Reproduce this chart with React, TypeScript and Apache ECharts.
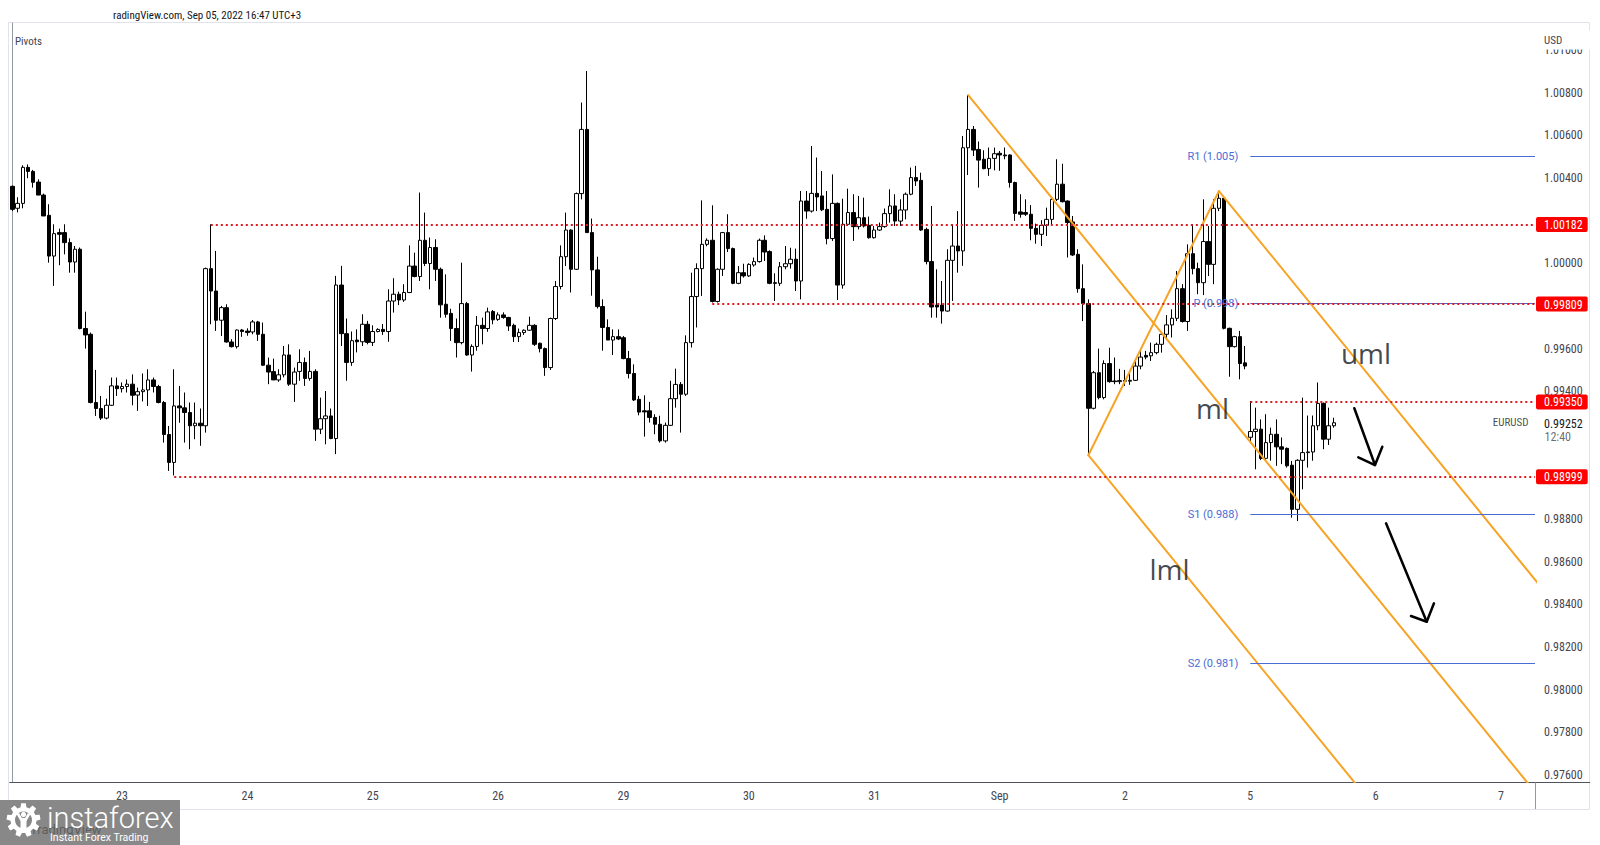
import React, { useEffect, useRef } from "react";
import * as echarts from "echarts";

// Hourly EURUSD bars, each [open, high, low, close]
const aug22 = [
  [1.00361, 1.00365, 1.00245, 1.00253], [1.00258, 1.0031, 1.00239, 1.00281], [1.00281, 1.0046, 1.00258, 1.0045],
  [1.0045, 1.00464, 1.00399, 1.00431], [1.00431, 1.00438, 1.00355, 1.0038], [1.00381, 1.00394, 1.0032, 1.0032],
  [1.0032, 1.00327, 1.00222, 1.00222], [1.00225, 1.00277, 1.00003, 1.00034], [1.00034, 1.00183, 0.99894, 1.00139],
  [1.00144, 1.00163, 0.99991, 1.00136], [1.00144, 1.00183, 1.00042, 1.00097], [1.00097, 1.00117, 0.99956, 1.00006],
  [1.00006, 1.00081, 0.99956, 1.00066], [1.00066, 1.00074, 0.9969, 0.99694], [0.99694, 0.99773, 0.996, 0.99664],
  [0.99667, 0.99675, 0.99343, 0.99347], [0.99347, 0.995, 0.99284, 0.99319], [0.99319, 0.99378, 0.99265, 0.99274],
  [0.99274, 0.99365, 0.99268, 0.99334], [0.99334, 0.99464, 0.99331, 0.99425], [0.99425, 0.99464, 0.99378, 0.99412],
];
const aug23 = [
  [0.99412, 0.99441, 0.99394, 0.99422], [0.99422, 0.99455, 0.99394, 0.99433], [0.99433, 0.99479, 0.99334, 0.99381],
  [0.99382, 0.99417, 0.99308, 0.99398], [0.99398, 0.99483, 0.99352, 0.99406], [0.99406, 0.99503, 0.99331, 0.99453],
  [0.99453, 0.99464, 0.99394, 0.99422], [0.99422, 0.9943, 0.99343, 0.99347], [0.99347, 0.99354, 0.99159, 0.99197],
  [0.99197, 0.99237, 0.99026, 0.99066], [0.99066, 0.99503, 0.99005, 0.99331], [0.99331, 0.99425, 0.99252, 0.99322],
  [0.99322, 0.99394, 0.99159, 0.993], [0.993, 0.99347, 0.99128, 0.99238], [0.99238, 0.99347, 0.99175, 0.9925],
  [0.9925, 0.99319, 0.99144, 0.99238], [0.99238, 0.9998, 0.99206, 0.99975], [0.99975, 1.00183, 0.99714, 0.9987],
  [0.9987, 1.00058, 0.99683, 0.99733], [0.99733, 0.998, 0.99659, 0.99792], [0.99792, 0.99808, 0.99628, 0.99631],
  [0.99631, 0.99644, 0.99605, 0.99609], [0.99609, 0.9969, 0.996, 0.99687], [0.99687, 0.99692, 0.99655, 0.9968],
];
const aug24 = [
  [0.99682, 0.99695, 0.9966, 0.99675], [0.99678, 0.99734, 0.99667, 0.99725], [0.99725, 0.9973, 0.99636, 0.99667],
  [0.99667, 0.99722, 0.99519, 0.99522], [0.99522, 0.99558, 0.99433, 0.9949], [0.99492, 0.99553, 0.99453, 0.99453],
  [0.99453, 0.99503, 0.99444, 0.99477], [0.99477, 0.99612, 0.99465, 0.9957], [0.9957, 0.9962, 0.99425, 0.99433],
  [0.99433, 0.99511, 0.9935, 0.9949], [0.99493, 0.99597, 0.99449, 0.99535], [0.99535, 0.99558, 0.99425, 0.9946],
  [0.9946, 0.99589, 0.99449, 0.99493], [0.99493, 0.99503, 0.99167, 0.99222], [0.99222, 0.9937, 0.99199, 0.99271],
  [0.99271, 0.99401, 0.99151, 0.99284], [0.99284, 0.99319, 0.99175, 0.99178], [0.99178, 0.99941, 0.99105, 0.99898],
  [0.99898, 0.99988, 0.99612, 0.9967], [0.9967, 0.99741, 0.99449, 0.99535], [0.99535, 0.9968, 0.99519, 0.99637],
  [0.9964, 0.9969, 0.99582, 0.99632], [0.99632, 0.99761, 0.99612, 0.99714], [0.99714, 0.9973, 0.9962, 0.99629],
];
const aug25 = [
  [0.99629, 0.99709, 0.99612, 0.9968], [0.9968, 0.99695, 0.99676, 0.9969], [0.9969, 0.99715, 0.99664, 0.9968],
  [0.9968, 0.99878, 0.99632, 0.99823], [0.99823, 0.9993, 0.99769, 0.99855], [0.99855, 0.99867, 0.99804, 0.99828],
  [0.99828, 0.99902, 0.99819, 0.99863], [0.99863, 1.00084, 0.9986, 0.99987], [0.99987, 1.0005, 0.99934, 0.99938],
  [0.99938, 1.00332, 0.99917, 1.00108], [1.00108, 1.00238, 0.99987, 0.99999], [0.99999, 1.00121, 0.99878, 1.00074],
  [1.00074, 1.00113, 0.99917, 0.99972], [0.99972, 0.9998, 0.99745, 0.99805], [0.99808, 0.99948, 0.99745, 0.99761],
  [0.99765, 0.99787, 0.99636, 0.99694], [0.99694, 0.99741, 0.99558, 0.99628], [0.99628, 1.00003, 0.9962, 0.99811],
  [0.99811, 0.99819, 0.99566, 0.9957], [0.9957, 0.9962, 0.99492, 0.9961], [0.9961, 0.99753, 0.9959, 0.99709],
  [0.99709, 0.99745, 0.9962, 0.99694], [0.99694, 0.99792, 0.99679, 0.99772], [0.99774, 0.99781, 0.99714, 0.99735],
];
const aug26 = [
  [0.99737, 0.9977, 0.9973, 0.99758], [0.99758, 0.9977, 0.9974, 0.99746], [0.99746, 0.99749, 0.99683, 0.99706],
  [0.99709, 0.99717, 0.99631, 0.99656], [0.99656, 0.99694, 0.99631, 0.99675], [0.99675, 0.9969, 0.99664, 0.99686],
  [0.99686, 0.9975, 0.99683, 0.99709], [0.99709, 0.99714, 0.99612, 0.9962], [0.99625, 0.99628, 0.99582, 0.996],
  [0.996, 0.99605, 0.99472, 0.99511], [0.99511, 0.99745, 0.995, 0.99741], [0.99741, 0.99917, 0.99734, 0.99891],
  [0.99891, 1.00084, 0.99878, 1.00031], [1.00031, 1.00238, 0.99987, 1.00156], [1.00156, 1.0016, 0.99863, 0.99972],
  [0.99972, 1.00332, 0.99969, 1.00327], [1.00327, 1.00754, 1.003, 1.00628], [1.00628, 1.00902, 1.00144, 1.00144],
  [1.00144, 1.0021, 0.99848, 0.99969], [0.99969, 1.00031, 0.99788, 0.99797], [0.99797, 0.99831, 0.9959, 0.99699],
  [0.99699, 0.99737, 0.9964, 0.9964], [0.9964, 0.9969, 0.9957, 0.99656], [0.99656, 0.9969, 0.9964, 0.99645],
];
const aug29 = [
  [0.99651, 0.99659, 0.9955, 0.99553], [0.99553, 0.99589, 0.9946, 0.99483], [0.99483, 0.99526, 0.99354, 0.99359],
  [0.99362, 0.99378, 0.99287, 0.99302], [0.99308, 0.99381, 0.99187, 0.99303], [0.99308, 0.9935, 0.99253, 0.99277],
  [0.99277, 0.99292, 0.99198, 0.99245], [0.99245, 0.99285, 0.99159, 0.99167], [0.99167, 0.99253, 0.99159, 0.9924],
  [0.9924, 0.99449, 0.99237, 0.99365], [0.99365, 0.99506, 0.99323, 0.99432], [0.99432, 0.99443, 0.99206, 0.99386],
  [0.99386, 0.99662, 0.99378, 0.99628], [0.99628, 0.99956, 0.99605, 0.99844], [0.99844, 1.0, 0.99699, 0.99975],
  [0.99975, 1.00295, 0.99847, 1.00089], [1.00089, 1.00117, 1.0008, 1.00108], [1.00108, 1.00272, 0.99816, 0.99821],
  [0.99821, 0.99976, 0.99816, 0.99972], [0.99972, 1.00147, 0.99941, 1.00144], [1.00144, 1.0023, 1.00053, 1.00069],
  [1.00069, 1.00074, 0.99902, 0.99906], [0.99906, 0.99987, 0.99902, 0.99956], [0.99956, 0.99998, 0.99933, 0.99941],
];
const aug30 = [
  [0.99941, 1.0, 0.99936, 0.99995], [0.99992, 1.00027, 0.99984, 1.00008], [1.00008, 1.00116, 1.00003, 1.00108],
  [1.00108, 1.00131, 1.00011, 1.00053], [1.00055, 1.00061, 0.99902, 0.99906], [0.99909, 0.99953, 0.99823, 0.99906],
  [0.99906, 1.00006, 0.99894, 0.99984], [0.99984, 1.00081, 0.99972, 0.99998], [0.99998, 1.00073, 0.99975, 1.00019],
  [1.00019, 1.00069, 0.9987, 0.99917], [0.99917, 1.00339, 0.99831, 1.00292], [1.00292, 1.00339, 1.00209, 1.00245],
  [1.00245, 1.0055, 1.00238, 1.00328], [1.00328, 1.00496, 1.00245, 1.00311], [1.00316, 1.00433, 1.00245, 1.00251],
  [1.00253, 1.00339, 1.00089, 1.00116], [1.00116, 1.00417, 1.00105, 1.00281], [1.00281, 1.00285, 0.99828, 0.99898],
  [0.99898, 1.00303, 0.99881, 1.00183], [1.00183, 1.0035, 1.00175, 1.00238], [1.00238, 1.00324, 1.00105, 1.00172],
  [1.00172, 1.00316, 1.00159, 1.00214], [1.00214, 1.00308, 1.00168, 1.00175], [1.00178, 1.00219, 1.00116, 1.0012],
];
const aug31 = [
  [1.0012, 1.00175, 1.00116, 1.00156], [1.00156, 1.00191, 1.00152, 1.00172], [1.00172, 1.00257, 1.00167, 1.00233],
  [1.00233, 1.00347, 1.00191, 1.00269], [1.00269, 1.00324, 1.00175, 1.00198], [1.00198, 1.003, 1.00175, 1.0025],
  [1.0025, 1.00332, 1.00206, 1.00324], [1.00324, 1.00449, 1.00319, 1.00402], [1.00402, 1.00457, 1.00363, 1.00386],
  [1.00389, 1.00425, 1.00152, 1.00156], [1.00159, 1.00167, 0.99995, 1.00008], [1.00008, 1.00269, 0.99745, 0.99795],
  [0.99804, 0.99972, 0.99745, 0.99795], [0.99804, 0.99917, 0.99717, 0.99776], [0.99776, 1.00066, 0.99773, 1.00014],
  [1.00014, 1.00183, 0.99823, 1.00081], [1.00081, 1.00245, 0.99956, 1.00058], [1.00058, 1.00597, 0.99988, 1.00542],
  [1.00542, 1.00789, 1.00414, 1.00628], [1.00628, 1.00644, 1.00503, 1.00531], [1.00534, 1.00571, 1.00355, 1.00484],
  [1.00488, 1.0053, 1.00441, 1.00444], [1.00444, 1.00543, 1.0041, 1.00492], [1.00492, 1.00543, 1.00436, 1.00514],
];
const sep01 = [
  [1.00516, 1.00527, 1.00434, 1.00508], [1.00508, 1.00543, 1.00488, 1.00504], [1.00508, 1.00511, 1.00355, 1.00379],
  [1.00379, 1.00383, 1.00199, 1.00234], [1.00241, 1.00324, 1.00214, 1.0023], [1.00238, 1.003, 1.00222, 1.0023],
  [1.0023, 1.00273, 1.00108, 1.00164], [1.00164, 1.00186, 1.00092, 1.00136], [1.00136, 1.00202, 1.00081, 1.00178],
  [1.00178, 1.00261, 1.00128, 1.00206], [1.00206, 1.00308, 1.00175, 1.003], [1.003, 1.00488, 1.00292, 1.00371],
  [1.00371, 1.00467, 1.00285, 1.00289], [1.00292, 1.00295, 1.00027, 1.00191], [1.00194, 1.00222, 1.00034, 1.00039],
  [1.00042, 1.00066, 0.99862, 0.99881], [0.99881, 0.99995, 0.99729, 0.99811], [0.99811, 0.99831, 0.991, 0.9932],
  [0.9932, 0.99495, 0.99315, 0.99487], [0.99487, 0.996, 0.99362, 0.9937], [0.9937, 0.99545, 0.99362, 0.9953],
  [0.9953, 0.99604, 0.9944, 0.99445], [0.99448, 0.99558, 0.99433, 0.99445], [0.99445, 0.99505, 0.99433, 0.9945],
];
const sep02 = [
  [0.9945, 0.995, 0.99425, 0.99447], [0.99447, 0.9949, 0.9943, 0.99451], [0.99451, 0.99542, 0.99448, 0.99518],
  [0.99518, 0.99589, 0.99503, 0.9956], [0.99568, 0.99589, 0.9955, 0.9956], [0.99566, 0.99628, 0.99542, 0.99581],
  [0.99581, 0.99628, 0.99573, 0.9962], [0.9962, 0.99675, 0.99581, 0.99667], [0.99667, 0.99757, 0.99644, 0.99711],
  [0.99711, 0.99784, 0.99652, 0.99742], [0.99742, 0.99964, 0.99729, 0.99881], [0.99881, 0.99902, 0.99722, 0.99727],
  [0.99727, 1.00089, 0.99683, 1.00045], [1.00045, 1.00183, 0.99948, 0.99975], [0.99975, 1.00003, 0.99855, 0.99909],
  [0.99909, 1.003, 0.99851, 1.00102], [1.00102, 1.00175, 0.9994, 0.99995], [0.99995, 1.003, 0.99902, 1.00258],
  [1.00258, 1.00339, 1.00245, 1.00305], [1.00305, 1.00308, 0.9969, 0.99695], [0.99695, 0.99698, 0.99468, 0.99609],
  [0.99609, 0.9966, 0.99605, 0.99656], [0.99656, 0.99683, 0.99456, 0.9953], [0.99533, 0.99612, 0.99503, 0.99518],
];
const sep05 = [
  [0.99184, 0.99354, 0.99159, 0.99211], [0.99211, 0.99323, 0.99034, 0.99222], [0.99222, 0.99268, 0.99077, 0.99085],
  [0.99085, 0.99292, 0.99077, 0.99159], [0.99159, 0.99229, 0.99074, 0.99198], [0.99198, 0.99268, 0.9905, 0.99139],
  [0.99139, 0.99183, 0.99058, 0.99128], [0.99132, 0.99136, 0.99042, 0.9905], [0.99053, 0.99073, 0.98807, 0.98846],
  [0.98846, 0.99081, 0.98791, 0.99076], [0.99076, 0.9937, 0.9894, 0.99112], [0.99112, 0.99286, 0.99042, 0.99115],
  [0.99115, 0.99286, 0.99074, 0.99238], [0.99238, 0.99441, 0.99217, 0.99343], [0.99343, 0.99347, 0.99128, 0.99175],
  [0.99175, 0.99323, 0.99148, 0.99238], [0.99238, 0.99276, 0.99229, 0.99252],
];

const sessionDates = ["Aug 22", "Aug 23", "Aug 24", "Aug 25", "Aug 26", "Aug 29", "Aug 30", "Aug 31", "Sep 1", "Sep 2", "Sep 5", "Sep 6", "Sep 7"];
const dayLabels = ["23", "24", "25", "26", "29", "30", "31", "Sep", "2", "5", "6", "7"];
const firstHour = 3;
const totalSlots = 292;

// visible price-scale ticks (those hidden behind the coloured price boxes are omitted, as in the source)
const priceTicks = [0.976, 0.978, 0.98, 0.982, 0.984, 0.986, 0.988, 0.994, 0.996, 1.0, 1.004, 1.006, 1.008, 1.01];
const yMin = 0.975671;
const yMax = 1.011271;

// horizontal key levels: [price, starting bar index]
const levelPrices = [1.00182, 0.99809, 0.9935, 0.98999];
const levelStarts = [38, 134, 237, 31];

const pivotNames = ["R1 (1.005)", "P (0.998)", "S1 (0.988)", "S2 (0.981)"];
const pivotValues = [1.00503, 0.99812, 0.98823, 0.98124];
const pivotStart = 237;

const lastPrice = 0.99252;
const countdown = "12:40";
const symbolName = "EURUSD";

// Andrews pitchfork anchors [bar index, price]
const pitchA = [183, 1.00789];
const pitchB = [231, 1.00339];
const pitchC = [206, 0.991];

// hand-drawn arrows [bar index, price]
const arrow1Shaft = [[256.91, 0.993199], [260.87, 0.990539]];
const arrow1Head = [[257.68, 0.990901], [260.87, 0.990539], [262.27, 0.991398]];
const arrow2Shaft = [[262.98, 0.987805], [270.77, 0.983189]];
const arrow2Head = [[267.76, 0.983457], [270.77, 0.983189], [272.16, 0.984053]];

const channelNames = ["uml", "ml", "lml"];
const channelLabelPos = [[259.15, 0.99577], [229.77, 0.99319], [221.53, 0.98566]];

const bars = [...aug22, ...aug23, ...aug24, ...aug25, ...aug26, ...aug29, ...aug30, ...aug31, ...sep01, ...sep02, ...sep05];

const categories: string[] = [];
for (let i = 0; i < totalSlots; i++) {
  const h = i + firstHour;
  const d = Math.floor(h / 24);
  const hh = h % 24;
  categories.push(`${sessionDates[d]} ${String(hh).padStart(2, "0")}:00`);
}

function gearPathData(teeth: number, rOut: number, rIn: number) {
  const step = (Math.PI * 2) / teeth;
  const pts: number[][] = [];
  for (let k = 0; k < teeth; k++) {
    const a = k * step - Math.PI / 2;
    pts.push([rIn, a - step * 0.32], [rOut, a - step * 0.2], [rOut, a + step * 0.2], [rIn, a + step * 0.32]);
  }
  return (
    pts
      .map(([r, a], i) => `${i === 0 ? "M" : "L"}${(r * Math.cos(a)).toFixed(2)},${(r * Math.sin(a)).toFixed(2)}`)
      .join(" ") + " Z"
  );
}
echarts.graphic.registerShape("gearLogo", echarts.graphic.extendPath(gearPathData(9, 17, 13), {}));

const FONT_AXIS = "'Liberation Sans Narrow', 'Roboto Condensed', 'DejaVu Sans Condensed', Roboto, sans-serif";
const FONT_UI = "Roboto, 'Noto Sans', sans-serif";

export default function App() {
  const ref = useRef<HTMLDivElement>(null);

  useEffect(() => {
    if (!ref.current) return;
    const chart = echarts.init(ref.current, undefined, { renderer: "svg" });

    const mid = [(pitchB[0] + pitchC[0]) / 2, (pitchB[1] + pitchC[1]) / 2];
    const slope = (mid[1] - pitchA[1]) / (mid[0] - pitchA[0]);
    const xFar = 330;
    const extend = (p: number[]) => [[p[0], p[1]], [xFar, p[1] + slope * (xFar - p[0])]];

    const orange = "#f7a325";
    const lineSeries = (data: number[][], color: string, width: number, z: number) => ({
      type: "line",
      xAxisIndex: 1,
      data,
      symbol: "none",
      silent: true,
      clip: true,
      z,
      lineStyle: { color, width, cap: "round", join: "round" },
    });

    const isRed = (v: number) => levelPrices.some((p) => Math.abs(p - v) < 1e-7);

    const option: any = {
      animation: false,
      backgroundColor: "#ffffff",
      textStyle: { fontFamily: FONT_UI },
      grid: { left: 9.7, right: 65, top: 23, bottom: 63 },
      xAxis: [
        {
          type: "category",
          data: categories,
          boundaryGap: true,
          axisLine: { show: true, lineStyle: { color: "#50535e", width: 1 } },
          axisTick: { show: false },
          splitLine: { show: false },
          axisLabel: {
            interval: (i: number) => (i + firstHour) % 24 === 0,
            formatter: (_v: string, i: number) => {
              const h = i + firstHour;
              return h % 24 === 0 ? dayLabels[h / 24 - 1] : "";
            },
            color: "#434651",
            fontSize: 12,
            fontFamily: FONT_AXIS,
            margin: 8,
          },
        },
        { type: "value", show: false, min: -0.5, max: totalSlots - 0.5, gridIndex: 0 },
      ],
      yAxis: {
        type: "value",
        position: "right",
        min: yMin,
        max: yMax,
        axisLine: { show: true, lineStyle: { color: "#9598a1" } },
        axisTick: { show: false },
        splitLine: { show: false },
        axisLabel: {
          customValues: [...priceTicks, lastPrice, ...levelPrices],
          margin: 1,
          formatter: (v: number) => {
            if (Math.abs(v - lastPrice) < 1e-7) return `{cur|${v.toFixed(5)}}`;
            if (isRed(v)) return `{red|${v.toFixed(5)}}`;
            return `{n|${v.toFixed(5)}}`;
          },
          rich: {
            n: { color: "#434651", fontSize: 12, fontFamily: FONT_AXIS, padding: [0, 5, 0, 8] },
            red: {
              color: "#ffffff",
              backgroundColor: "#ff0000",
              fontSize: 12,
              fontFamily: FONT_AXIS,
              padding: [2, 5, 1, 8],
              borderRadius: 2,
            },
            cur: { color: "#131722", fontSize: 12, fontFamily: FONT_AXIS, padding: [2, 5, 0, 8] },
          },
        },
      },
      series: [
        // pivot levels
        {
          type: "line",
          xAxisIndex: 1,
          data: [],
          silent: true,
          z: 1,
          markLine: {
            silent: true,
            symbol: ["none", "none"],
            animation: false,
            lineStyle: { color: "#4a6cd4", width: 1, type: "solid" },
            label: { show: true, position: "start", distance: 12, color: "#4a6cd4", fontSize: 11, fontFamily: FONT_UI },
            data: pivotValues.map((v, i) => [
              { coord: [pivotStart, v], label: { formatter: pivotNames[i] } },
              { coord: [totalSlots - 0.5, v] },
            ]),
          },
        },
        // red dotted key levels
        {
          type: "line",
          xAxisIndex: 1,
          data: [],
          silent: true,
          z: 1,
          markLine: {
            silent: true,
            symbol: ["none", "none"],
            animation: false,
            data: levelPrices.map((p, i) => [
              { coord: [levelStarts[i], p], lineStyle: { color: "#e0191f", width: 2, type: [2, 3] }, label: { show: false } },
              { coord: [totalSlots - 0.5, p] },
            ]),
          },
        },
        // symbol name (left of the scale) and bar countdown (under the last price) at the last price
        {
          type: "scatter",
          xAxisIndex: 1,
          symbolSize: 1,
          silent: true,
          z: 5,
          itemStyle: { color: "transparent" },
          data: [
            {
              value: [totalSlots - 0.5, lastPrice],
              label: { show: true, position: "left", distance: 6, formatter: symbolName, color: "#131722", fontSize: 11, fontFamily: FONT_AXIS },
            },
            {
              value: [totalSlots - 0.5, lastPrice],
              label: { show: true, position: "right", distance: 9, offset: [0, 14], formatter: countdown, color: "#434651", fontSize: 12, fontFamily: FONT_AXIS },
            },
          ],
        },
        {
          type: "candlestick",
          data: bars.map(([o, h, l, c]) => [o, c, l, h]),
          barWidth: 4,
          z: 2,
          itemStyle: {
            color: "#ffffff",
            color0: "#000000",
            borderColor: "#000000",
            borderColor0: "#000000",
            borderWidth: 1,
          },
        },
        lineSeries(extend(pitchA), orange, 2, 3),
        lineSeries(extend(pitchB), orange, 2, 3),
        lineSeries(extend(pitchC), orange, 2, 3),
        lineSeries([pitchB, pitchC], orange, 2, 3),
        lineSeries(arrow1Shaft, "#000000", 2.5, 4),
        lineSeries(arrow1Head, "#000000", 2.5, 4),
        lineSeries(arrow2Shaft, "#000000", 2.5, 4),
        lineSeries(arrow2Head, "#000000", 2.5, 4),
        {
          type: "scatter",
          xAxisIndex: 1,
          symbolSize: 1,
          silent: true,
          z: 5,
          itemStyle: { color: "transparent" },
          label: {
            show: true,
            position: "inside",
            formatter: (p: any) => p.name,
            color: "#131722",
            fontSize: 28,
            fontFamily: "'Open Sans', 'Noto Sans', sans-serif",
          },
          data: channelNames.map((n, i) => ({ name: n, value: channelLabelPos[i] })),
        },
      ],
      graphic: [
        {
          type: "rect",
          silent: true,
          z: -1,
          shape: { x: 8.5, y: 22.5, width: 1581, height: 787 },
          style: { fill: "none", stroke: "#e0e3eb", lineWidth: 1 },
        },
        {
          type: "line",
          silent: true,
          shape: { x1: 1535, y1: 782.5, x2: 1590, y2: 782.5 },
          style: { stroke: "#50535e", lineWidth: 1 },
        },
        {
          type: "line",
          silent: true,
          shape: { x1: 1535.5, y1: 782, x2: 1535.5, y2: 809 },
          style: { stroke: "#9598a1", lineWidth: 1 },
        },
        {
          type: "text",
          silent: true,
          x: 113,
          y: 15,
          style: { text: "radingView.com, Sep 05, 2022 16:47 UTC+3", fill: "#131722", fontSize: 11, fontFamily: FONT_AXIS, textVerticalAlign: "middle" },
        },
        {
          type: "text",
          silent: true,
          x: 15,
          y: 41,
          style: { text: "Pivots", fill: "#434651", fontSize: 11, fontFamily: FONT_AXIS, textVerticalAlign: "middle" },
        },
        {
          type: "text",
          silent: true,
          z: 50,
          x: 1537,
          y: 40,
          style: {
            text: "USD",
            fill: "#434651",
            fontSize: 11,
            fontFamily: FONT_AXIS,
            textVerticalAlign: "middle",
            backgroundColor: "#ffffff",
            padding: [4, 30, 4, 7],
          },
        },
        {
          type: "group",
          z: 100,
          children: [
            { type: "rect", silent: true, shape: { x: 0, y: 800, width: 180, height: 45 }, style: { fill: "#888888" } },
            {
              type: "text",
              silent: true,
              x: 30,
              y: 829,
              style: { text: "TradingView", fill: "rgba(40,40,40,0.45)", fontSize: 13, fontFamily: FONT_UI, textVerticalAlign: "middle" },
            },
            { type: "gearLogo", silent: true, x: 23.5, y: 820, style: { fill: "#ffffff" } },
            { type: "circle", silent: true, shape: { cx: 23.5, cy: 820, r: 8.5 }, style: { fill: "#888888" } },
            { type: "circle", silent: true, shape: { cx: 23.5, cy: 814.5, r: 2.6 }, style: { fill: "#ffffff" } },
            {
              type: "polygon",
              silent: true,
              shape: { points: [[16.5, 814], [19, 813], [22, 818], [25, 818], [28, 813], [30.5, 814], [26.5, 821], [26.5, 831], [20.5, 831], [20.5, 821]] },
              style: { fill: "#ffffff" },
            },
            {
              type: "text",
              silent: true,
              x: 47,
              y: 818,
              style: { text: "instaforex", fill: "#ffffff", fontSize: 29, fontWeight: 300, fontFamily: FONT_UI, textVerticalAlign: "middle" },
            },
            {
              type: "text",
              silent: true,
              x: 50,
              y: 837,
              style: { text: "Instant Forex Trading", fill: "#ffffff", fontSize: 10.5, fontFamily: FONT_UI, textVerticalAlign: "middle" },
            },
          ],
        },
      ],
    };

    chart.setOption(option);
    return () => chart.dispose();
  }, []);

  return (
    <div
      ref={ref}
      style={{ position: "fixed", left: 0, top: 0, width: 1600, height: 845, background: "#ffffff" }}
    />
  );
}
